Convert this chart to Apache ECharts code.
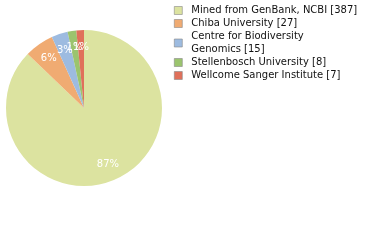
<!DOCTYPE html>
<html><head><meta charset="utf-8">
<script src="https://cdn.jsdelivr.net/npm/echarts@6/dist/echarts.min.js"></script>
<style>html,body{margin:0;padding:0;background:#fff}#c{width:380px;height:240px}</style>
</head><body><div id="c"></div>
<script>
const categories = ["Mined from GenBank, NCBI", "Chiba University", "Centre for Biodiversity Genomics", "Stellenbosch University", "Wellcome Sanger Institute"];
const legendLabels = ["Mined from GenBank, NCBI [387]", "Chiba University [27]", "Centre for Biodiversity\nGenomics [15]", "Stellenbosch University [8]", "Wellcome Sanger Institute [7]"];
const values = [387, 27, 15, 8, 7];
const colors = ["#dce3a0", "#f0ab72", "#9dbbe0", "#9bc46e", "#e0705a"];

const total = values.reduce((a, b) => a + b, 0);
const data = categories.map((c, i) => ({ name: c, value: values[i], itemStyle: { color: colors[i] } }));
const chart = echarts.init(document.getElementById('c'), null, { renderer: 'canvas' });
chart.setOption({
  animation: false,
  legend: {
    orient: 'vertical', left: 174, top: 4, padding: 0,
    itemWidth: 8, itemHeight: 8, itemGap: 0,
    icon: 'rect',
    data: categories.map((c, i) => ({ name: c, itemStyle: { borderColor: '#888', borderWidth: 0.6 } })),
    formatter: n => legendLabels[categories.indexOf(n)],
    textStyle: { fontFamily: 'DejaVu Sans', fontSize: 10, color: '#111', lineHeight: 13, padding: [0, 0, 0, 4] },
    selectedMode: false
  },
  series: [
    {
      type: 'pie', center: [84, 108], radius: 78, startAngle: 90, clockwise: true,
      data: data, label: { show: false }, labelLine: { show: false }, silent: true
    },
    {
      type: 'pie', center: [84, 108], radius: [38, 78], startAngle: 90, clockwise: true,
      minShowLabelAngle: 0, avoidLabelOverlap: false,
      data: categories.map((c, i) => ({ name: c, value: values[i], itemStyle: { color: 'rgba(0,0,0,0)' } })),
      label: {
        show: true, position: 'inside', color: '#fff', fontFamily: 'DejaVu Sans', fontSize: 10,
        formatter: p => Math.floor(p.value / total * 100) + '%'
      },
      labelLayout: { hideOverlap: false },
      labelLine: { show: false }, silent: true, legendHoverLink: false
    }
  ]
});
</script></body></html>
